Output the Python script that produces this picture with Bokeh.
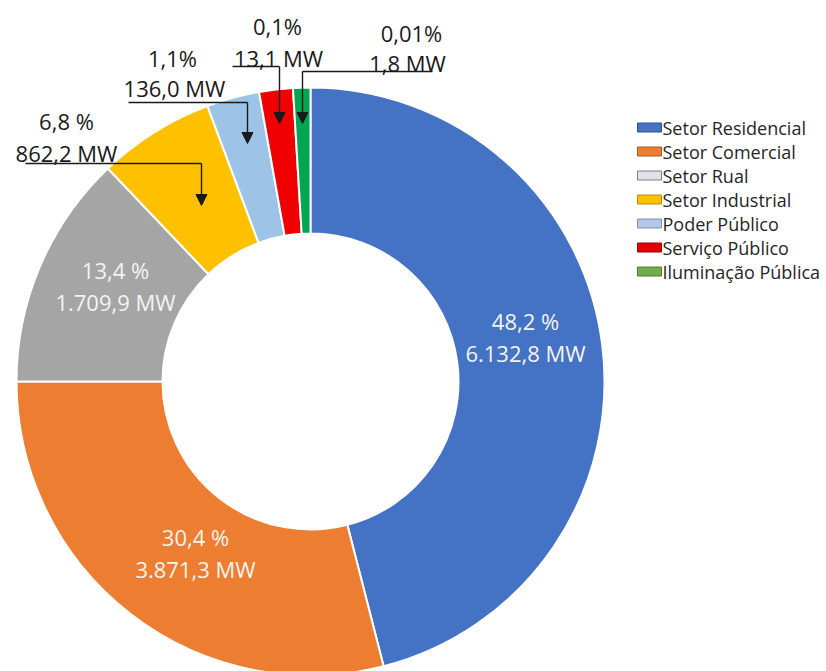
import math
from bokeh.plotting import figure
from bokeh.models import Range1d, Arrow, NormalHead
from bokeh.core.properties import value
from bokeh.embed import file_html
from bokeh.resources import INLINE

# ---------------- data ----------------
categories = ["Setor Residencial", "Setor Comercial", "Setor Rual", "Setor Industrial",
              "Poder Público", "Serviço Público", "Iluminação Pública"]
power_mw = [6132.8, 3871.3, 1709.9, 862.2, 136.0, 13.1, 1.8]
share_labels = ["48,2 %", "30,4 %", "13,4 %", "6,8 %", "1,1%", "0,1%", "0,01%"]
# angular share of each slice as drawn in the picture (small slices enlarged there)
drawn_share_pct = [46.0, 29.0, 12.9, 6.4, 2.9, 1.85, 0.95]

slice_colors = ["#4472C4", "#ED7D31", "#A5A5A5", "#FFC000", "#9DC3E6", "#F00000", "#00A651"]
legend_fill = ["#4472C4", "#ED7D31", "#DFE2E8", "#FFC000", "#B4C7E7", "#E00000", "#70AD47"]
legend_line = ["#2F528F", "#AE5A21", "#7F7F7F", "#BC8C00", "#7F94B8", "#A00000", "#507E32"]


def fmt_mw(v):
    s = f"{v:,.1f}".replace(",", "X").replace(".", ",").replace("X", ".")
    return s + " MW"


# ---------------- layout ----------------
W, H = 826, 671


def Y(py):
    return H - py


p = figure(width=W, height=H, output_backend="svg", toolbar_location=None,
           x_range=Range1d(0, W), y_range=Range1d(0, H), min_border=0)
p.axis.visible = False
p.grid.visible = False
p.outline_line_color = None
p.background_fill_color = "white"

cx, cy = 310, Y(381)
r_out, r_in = 294, 148

cum = 0.0
for i, s in enumerate(drawn_share_pct):
    a_top = math.pi / 2 - 2 * math.pi * cum / 100.0
    a_bot = math.pi / 2 - 2 * math.pi * (cum + s) / 100.0
    p.annular_wedge(x=cx, y=cy, inner_radius=r_in, outer_radius=r_out,
                    start_angle=a_bot, end_angle=a_top, direction="anticlock",
                    fill_color=slice_colors[i], line_color="white", line_width=2)
    cum += s

label_font = value("Open Sans")

# inner labels (first three slices)
inner_pos = [(525, 336), (195, 552), (115, 285)]
for i, (lx, ly) in enumerate(inner_pos):
    p.text(x=[lx, lx], y=[Y(ly - 16), Y(ly + 16)],
           text=[share_labels[i], fmt_mw(power_mw[i])],
           text_font=label_font, text_font_size=value("22px"),
           text_color="#F4F4F0", text_align="center", text_baseline="middle")

# outer labels with leader arrows (small slices)
# (pct x, pct y, mw x, mw y, line y, line x0, elbow x, arrow tip y)
outer_pos = [
    (66, 120, 66, 152, 163, 25, 201, 205),
    (172, 57, 174, 87, 102, 128, 247, 143),
    (277, 25, 278, 57, 66, 232, 279, 123),
    (411, 32, 407, 62, 71, 432, 302, 123),
]
for k, (px_, py_, mx, my, ly, lx0, ex, ty) in enumerate(outer_pos):
    i = 3 + k
    p.text(x=[px_, mx], y=[Y(py_), Y(my)],
           text=[share_labels[i], fmt_mw(power_mw[i])],
           text_font=label_font, text_font_size=value("22px"),
           text_color="#1A1A1A", text_align="center", text_baseline="middle")
    p.segment(x0=[lx0], y0=[Y(ly)], x1=[ex], y1=[Y(ly)], line_color="#1A1A1A", line_width=1.4)
    p.add_layout(Arrow(end=NormalHead(size=11, fill_color="#1A1A1A", line_color="#1A1A1A"),
                       x_start=ex, y_start=Y(ly), x_end=ex, y_end=Y(ty),
                       line_color="#1A1A1A", line_width=1.4))

# legend
for i, name in enumerate(categories):
    ry = 127 + 24 * i
    p.rect(x=[649], y=[Y(ry)], width=24, height=9,
           fill_color=legend_fill[i], line_color=legend_line[i], line_width=1)
p.text(x=[662] * len(categories), y=[Y(127 + 24 * i) for i in range(len(categories))],
       text=categories, text_font=label_font, text_font_size=value("18px"),
       text_color="#262626", text_align="left", text_baseline="middle")

open("out.html", "w").write(file_html(p, INLINE))
